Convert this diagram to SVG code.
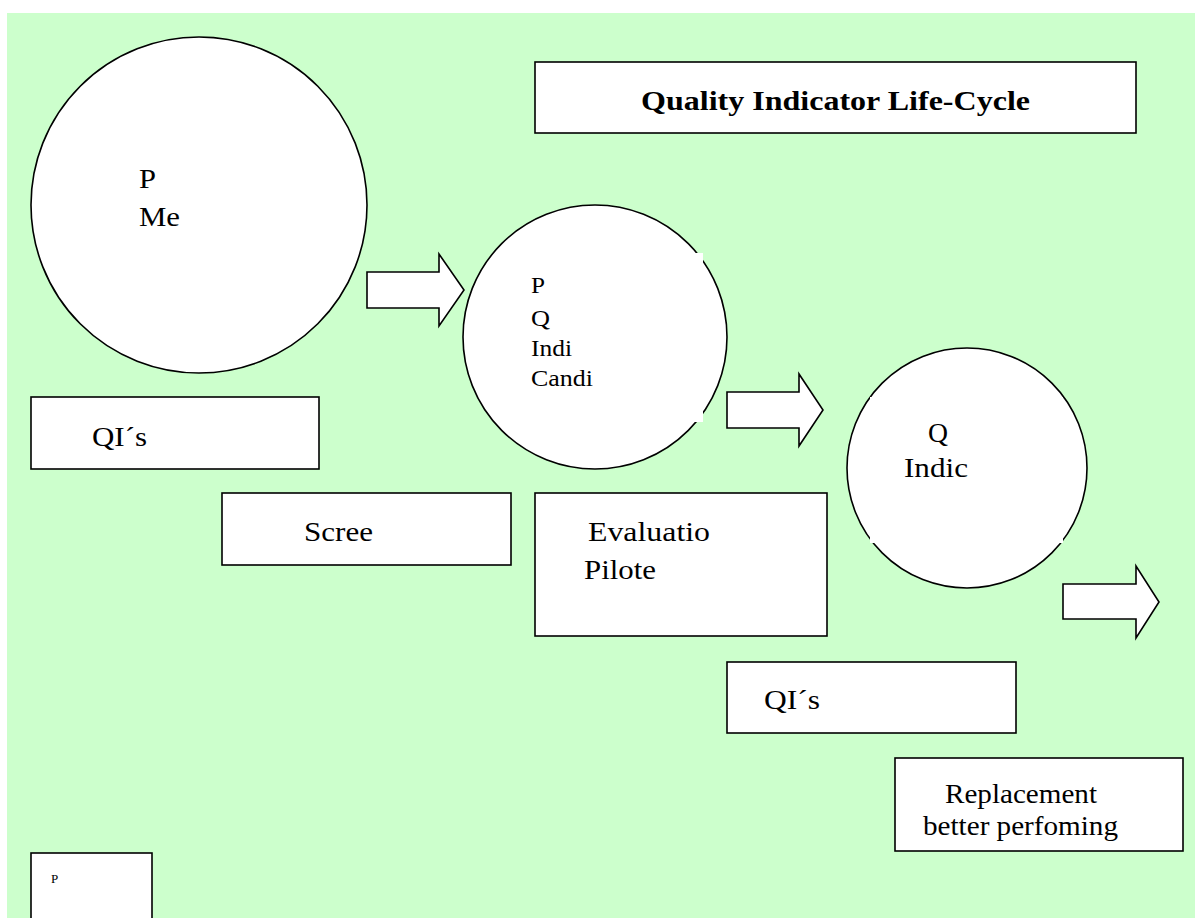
<svg xmlns="http://www.w3.org/2000/svg" width="1195" height="918" viewBox="0 0 1195 918">
<style>
.bg{fill:#CCFFCC}
.shape{fill:#FFFFFF;stroke:#000000;stroke-width:1.6}
.mask{fill:#FFFFFF}
.t{font-family:"Liberation Serif","Times New Roman",serif;fill:#000000;font-size:28px}
.t24{font-size:24px}
.small{font-size:13px}
.title{font-weight:bold}
.arrow{fill:#FFFFFF;stroke:#000000;stroke-width:1.6;stroke-linejoin:miter}
</style>
<rect class="bg" x="7" y="13" width="1188" height="905"/>
<g id="title">
<rect class="shape" x="535" y="62" width="601" height="71"/>
<text class="t title" x="641" y="110" textLength="389" lengthAdjust="spacingAndGlyphs">Quality Indicator Life-Cycle</text>
</g>
<g id="circle-potential">
<circle class="shape" cx="199" cy="205" r="168"/>
<text class="t" x="139" y="188" textLength="17" lengthAdjust="spacingAndGlyphs">P</text>
<text class="t" x="139" y="226" textLength="41" lengthAdjust="spacingAndGlyphs">Me</text>
</g>
<g id="box-qis-1">
<rect class="shape" x="31" y="397" width="288" height="72"/>
<text class="t" x="92" y="446" textLength="55" lengthAdjust="spacingAndGlyphs">QI´s</text>
</g>
<g id="circle-candidates">
<circle class="shape" cx="595" cy="337" r="132"/>
<rect class="mask" x="510" y="253" width="193" height="169"/>
<text class="t t24" x="531" y="293" textLength="14" lengthAdjust="spacingAndGlyphs">P</text>
<text class="t t24" x="531" y="326" textLength="19" lengthAdjust="spacingAndGlyphs">Q</text>
<text class="t t24" x="531" y="356" textLength="41" lengthAdjust="spacingAndGlyphs">Indi</text>
<text class="t t24" x="531" y="386" textLength="62" lengthAdjust="spacingAndGlyphs">Candi</text>
</g>
<g id="box-screening">
<rect class="shape" x="222" y="493" width="289" height="72"/>
<text class="t" x="304" y="541" textLength="69" lengthAdjust="spacingAndGlyphs">Scree</text>
</g>
<g id="box-evaluation">
<rect class="shape" x="535" y="493" width="292" height="143"/>
<text class="t" x="588" y="541" textLength="122" lengthAdjust="spacingAndGlyphs">Evaluatio</text>
<text class="t" x="584" y="579" textLength="72" lengthAdjust="spacingAndGlyphs">Pilote</text>
</g>
<g id="circle-indicators">
<circle class="shape" cx="967" cy="468" r="120"/>
<rect class="mask" x="870" y="397" width="193" height="146"/>
<text class="t" x="928" y="442" textLength="20" lengthAdjust="spacingAndGlyphs">Q</text>
<text class="t" x="904" y="477" textLength="64" lengthAdjust="spacingAndGlyphs">Indic</text>
</g>
<g id="box-qis-2">
<rect class="shape" x="727" y="662" width="289" height="71"/>
<text class="t" x="764" y="709" textLength="56" lengthAdjust="spacingAndGlyphs">QI´s</text>
</g>
<g id="box-replacement">
<rect class="shape" x="895" y="758" width="288" height="93"/>
<text class="t" x="945" y="803" textLength="152" lengthAdjust="spacingAndGlyphs">Replacement</text>
<text class="t" x="923" y="835" textLength="195" lengthAdjust="spacingAndGlyphs">better perfoming</text>
</g>
<g id="box-small">
<rect class="shape" x="31" y="853" width="121" height="80"/>
<text class="t small" x="51" y="883">P</text>
</g>
<g id="connectors">
<polygon class="arrow" points="367,272 439,272 439,254 464,290 439,326 439,308 367,308"/>
<polygon class="arrow" points="727,392 799,392 799,374 823,410 799,446 799,428 727,428"/>
<polygon class="arrow" points="1063,584 1136,584 1136,566 1159,602 1136,638 1136,619 1063,619"/>
</g>
</svg>
